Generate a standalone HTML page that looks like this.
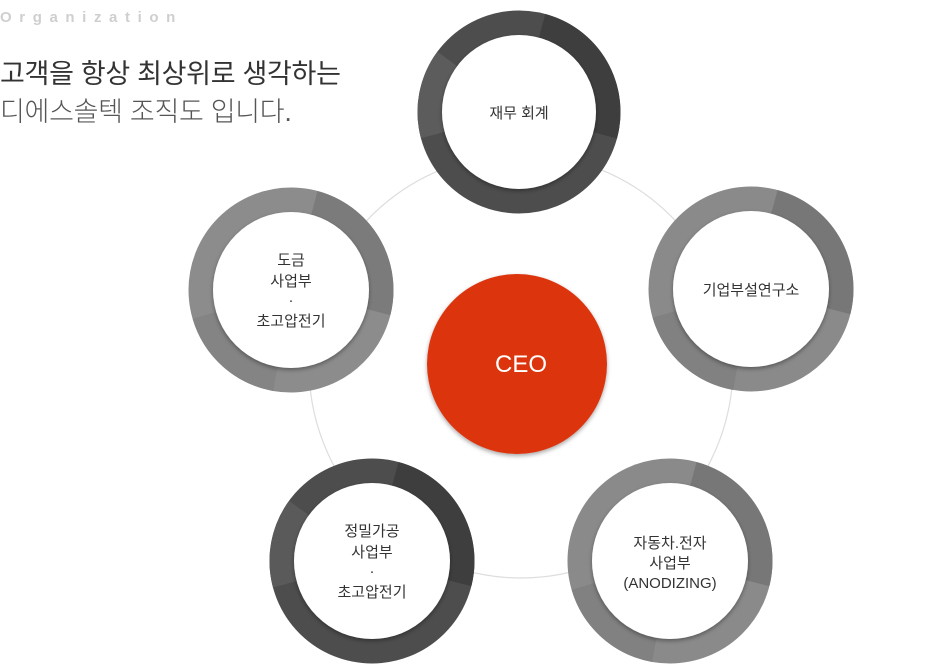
<!DOCTYPE html>
<html><head><meta charset="utf-8"><style>
body{margin:0;background:#fff;width:940px;height:665px;overflow:hidden;font-family:"Liberation Sans","Noto Sans CJK KR",sans-serif}
</style></head><body>
<svg width="940" height="665" viewBox="0 0 940 665" xmlns="http://www.w3.org/2000/svg" style="position:absolute;left:0;top:0">
<defs>
<filter id="sh" x="-20%" y="-20%" width="140%" height="140%"><feDropShadow dx="0" dy="2" stdDeviation="2" flood-opacity="0.35"/></filter>
</defs>
<text x="0" y="22" font-family="Liberation Sans, sans-serif" font-size="15" font-weight="bold" fill="#cfcfcf" letter-spacing="7.6">Organization</text>
<text x="0" y="83" font-family="Liberation Sans, Noto Sans CJK KR, sans-serif" font-size="27" fill="#333" letter-spacing="-0.3">고객을 항상 최상위로 생각하는</text>
<text x="0" y="121" font-family="Liberation Sans, Noto Sans CJK KR, sans-serif" font-size="27" font-weight="300" fill="#555" letter-spacing="-0.3">디에스솔텍 조직도 입니다.</text>

<circle cx="521" cy="366" r="212" fill="none" stroke="#ddd" stroke-width="1.2"/>

<g transform="translate(519,112)">
<circle r="89" fill="none" stroke="#4d4d4d" stroke-width="25"/>
<circle r="89" fill="none" stroke="#3e3e3e" stroke-width="25" stroke-dasharray="140 500" transform="rotate(-75)"/>
<circle r="89" fill="none" stroke="#5c5c5c" stroke-width="25" stroke-dasharray="80 500" transform="rotate(-195)"/>
<circle r="77" fill="#fff" filter="url(#sh)"/>
<text y="6" text-anchor="middle" font-size="15" fill="#333">재무 회계</text>
</g>
<g transform="translate(751,289)">
<circle r="90" fill="none" stroke="#8a8a8a" stroke-width="25"/>
<circle r="90" fill="none" stroke="#777" stroke-width="25" stroke-dasharray="140 500" transform="rotate(-75)"/>
<circle r="90" fill="none" stroke="#818181" stroke-width="25" stroke-dasharray="100 500" transform="rotate(100)"/>
<circle r="78" fill="#fff" filter="url(#sh)"/>
<text y="6" text-anchor="middle" font-size="15" fill="#333">기업부설연구소</text>
</g>
<g transform="translate(291,290)">
<circle r="90" fill="none" stroke="#8c8c8c" stroke-width="25"/>
<circle r="90" fill="none" stroke="#7b7b7b" stroke-width="25" stroke-dasharray="140 500" transform="rotate(-75)"/>
<circle r="90" fill="none" stroke="#848484" stroke-width="25" stroke-dasharray="100 500" transform="rotate(100)"/>
<circle r="78" fill="#fff" filter="url(#sh)"/>
<text text-anchor="middle" font-size="15" fill="#333"><tspan x="0" y="-25">도금</tspan><tspan x="0" y="-4">사업부</tspan><tspan x="0" y="15">·</tspan><tspan x="0" y="36">초고압전기</tspan></text>
</g>
<g transform="translate(372,561)">
<circle r="90" fill="none" stroke="#4d4d4d" stroke-width="25"/>
<circle r="90" fill="none" stroke="#3e3e3e" stroke-width="25" stroke-dasharray="140 500" transform="rotate(-75)"/>
<circle r="90" fill="none" stroke="#5a5a5a" stroke-width="25" stroke-dasharray="80 500" transform="rotate(-195)"/>
<circle r="78" fill="#fff" filter="url(#sh)"/>
<text text-anchor="middle" font-size="15" fill="#333"><tspan x="0" y="-25">정밀가공</tspan><tspan x="0" y="-4">사업부</tspan><tspan x="0" y="15">·</tspan><tspan x="0" y="36">초고압전기</tspan></text>
</g>
<g transform="translate(670,561)">
<circle r="90" fill="none" stroke="#8a8a8a" stroke-width="25"/>
<circle r="90" fill="none" stroke="#777" stroke-width="25" stroke-dasharray="140 500" transform="rotate(-75)"/>
<circle r="90" fill="none" stroke="#818181" stroke-width="25" stroke-dasharray="100 500" transform="rotate(100)"/>
<circle r="78" fill="#fff" filter="url(#sh)"/>
<text text-anchor="middle" font-size="15" fill="#333"><tspan x="0" y="-13">자동차.전자</tspan><tspan x="0" y="7">사업부</tspan><tspan x="0" y="27">(ANODIZING)</tspan></text>
</g>
<circle cx="517" cy="364" r="90" fill="#dc340f" filter="url(#sh)"/>
<text x="521" y="372" text-anchor="middle" font-size="24" fill="#fff">CEO</text>
</svg>
</body></html>
